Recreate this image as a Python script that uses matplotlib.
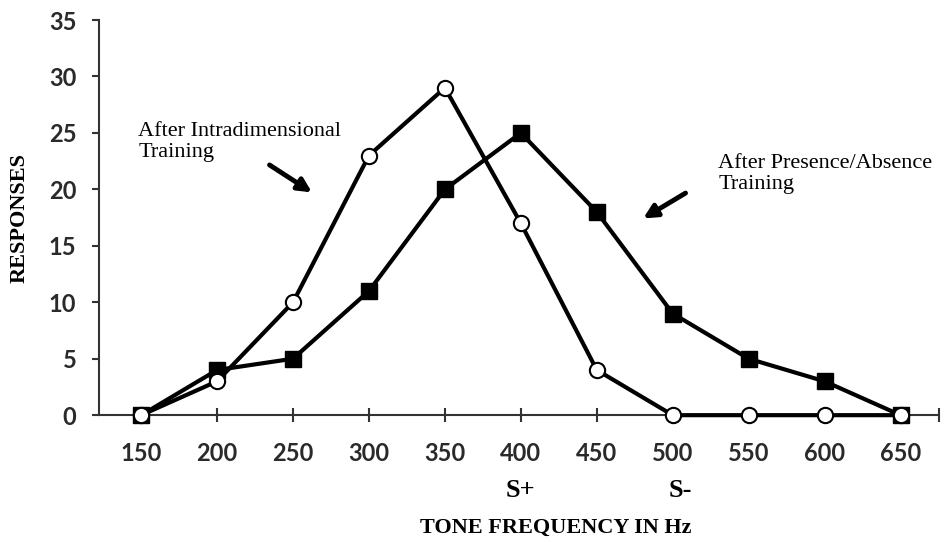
import numpy as np
import matplotlib.pyplot as plt
import matplotlib.transforms as mtransforms

freqs = [150, 200, 250, 300, 350, 400, 450, 500, 550, 600, 650]
intradim = [0, 3, 10, 23, 29, 17, 4, 0, 0, 0, 0]
pres_abs = [0, 4, 5, 11, 20, 25, 18, 9, 5, 3, 0]
yticks = [0, 5, 10, 15, 20, 25, 30, 35]

plt.rcParams['font.family'] = 'Liberation Serif'

fig = plt.figure(figsize=(9.48, 5.42), dpi=100)
ax = fig.add_axes([0.104, 0.234, 0.886, 0.729])

ax.plot(freqs, pres_abs, color='black', lw=3, marker='s', ms=11,
        mfc='black', mec='black', clip_on=False, zorder=3)
ax.plot(freqs, intradim, color='black', lw=3, marker='o', ms=11,
        mfc='white', mec='black', mew=1.5, clip_on=False, zorder=4)

ax.set_xlim(122, 675)
ax.set_ylim(0, 35)
ax.set_xticks(freqs + [675])
ax.set_xticklabels([str(f) for f in freqs] + [''])
ax.set_yticks(yticks)
for lab in ax.get_xticklabels() + ax.get_yticklabels():
    lab.set_family('Lato')
    lab.set_fontweight('bold')

for s in ['top', 'right']:
    ax.spines[s].set_visible(False)
for s in ['left', 'bottom']:
    ax.spines[s].set_linewidth(1.5)
    ax.spines[s].set_color('#333333')

ax.tick_params(axis='x', direction='inout', length=10, width=1.5, pad=14,
               labelsize=17, colors='#333333', labelcolor='#2a2a2a')
ax.tick_params(axis='y', direction='out', length=5, width=1.5, pad=11,
               labelsize=17, colors='#333333', labelcolor='#2a2a2a')

trans = mtransforms.blended_transform_factory(ax.transData, ax.transAxes)
ax.text(400, -0.19, 'S+', transform=trans, ha='center', va='center',
        fontsize=19, fontweight='bold')
ax.text(505, -0.19, 'S-', transform=trans, ha='center', va='center',
        fontsize=19, fontweight='bold')

fig.text(556 / 948, 1 - 528 / 542, 'TONE FREQUENCY IN Hz', ha='center',
         va='center', fontsize=16, fontweight='bold')
fig.text(20 / 948, 1 - 218 / 542, 'RESPONSES', ha='center', va='center',
         rotation=90, fontsize=16, fontweight='bold')

ax.text(148, 26.0, 'After Intradimensional\nTraining', ha='left', va='top',
        fontsize=16, linespacing=1.15)
ax.text(530, 23.1, 'After Presence/Absence\nTraining', ha='left', va='top',
        fontsize=16, linespacing=1.15)

ax.annotate('', xy=(264, 19.6), xytext=(233, 22.3),
            arrowprops=dict(arrowstyle='-|>', lw=3.5, color='black',
                            mutation_scale=20))
ax.annotate('', xy=(479, 17.3), xytext=(510, 19.8),
            arrowprops=dict(arrowstyle='-|>', lw=3.5, color='black',
                            mutation_scale=20))

fig.savefig('out.png', dpi=100)
